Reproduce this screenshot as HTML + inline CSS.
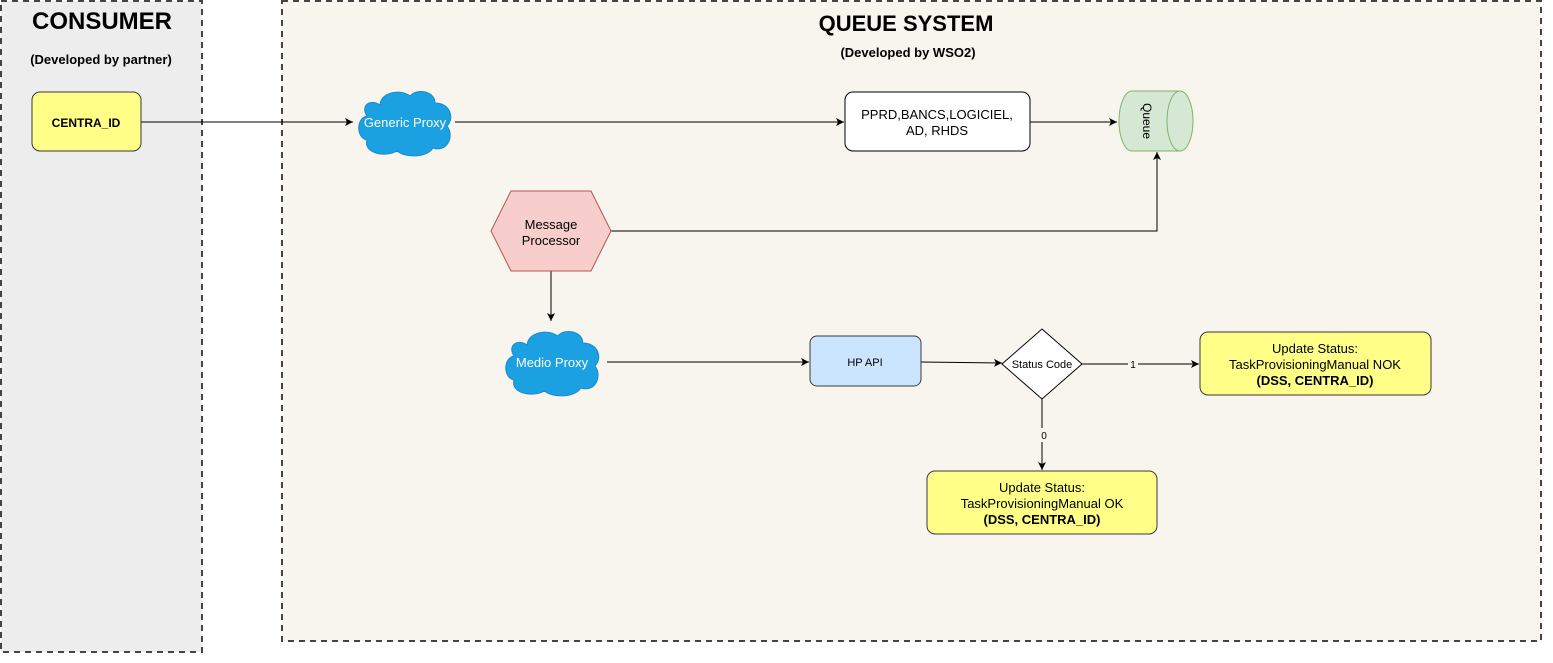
<!DOCTYPE html>
<html><head><style>
html,body{margin:0;padding:0;background:#fff;}
svg{display:block;font-family:"Liberation Sans",Arial,sans-serif;}
</style></head><body>
<svg width="1553" height="663" viewBox="0 0 1553 663" xmlns="http://www.w3.org/2000/svg">
<defs>
<marker id="a" markerWidth="10" markerHeight="10" refX="9" refY="5" orient="auto" markerUnits="userSpaceOnUse">
<path d="M1,1 L9,5 L1,9 L3,5 Z" fill="#000"/></marker>
<symbol id="cloud" viewBox="0 0 100 70" preserveAspectRatio="none">
<path d="M25,17 C25,5 45,0 55,8 C62,0 80,3 80,15 C95,15 100,30 92,38 C100,48 92,65 78,60 C72,70 50,70 42,63 C30,70 8,65 12,52 C1,50 1,30 12,28 C5,18 15,10 25,17 Z" fill="#1ba1e2" stroke="#1a8ccc" stroke-width="1"/>
</symbol>
</defs>
<rect x="1" y="1" width="201" height="651" fill="#ededed" stroke="#444" stroke-width="2" stroke-dasharray="6,5"/>
<rect x="282" y="1" width="1259" height="640" fill="#f8f5ee" stroke="#444" stroke-width="2" stroke-dasharray="6,5"/>
<text x="102" y="29" font-size="24" font-weight="bold" text-anchor="middle">CONSUMER</text>
<text x="101" y="64" font-size="13" font-weight="bold" text-anchor="middle">(Developed by partner)</text>
<text x="906" y="31" font-size="22" font-weight="bold" text-anchor="middle">QUEUE SYSTEM</text>
<text x="908" y="57" font-size="13" font-weight="bold" text-anchor="middle">(Developed by WSO2)</text>

<line x1="141" y1="122" x2="353" y2="122" stroke="#000" marker-end="url(#a)"/>
<line x1="455" y1="122" x2="844" y2="122" stroke="#000" marker-end="url(#a)"/>
<line x1="1030" y1="122" x2="1117" y2="122" stroke="#000" marker-end="url(#a)"/>
<polyline points="611,231 1157,231 1157,152" fill="none" stroke="#000" marker-end="url(#a)"/>
<line x1="551" y1="271" x2="551" y2="321" stroke="#000" marker-end="url(#a)"/>
<line x1="607" y1="362" x2="809" y2="362" stroke="#000" marker-end="url(#a)"/>
<line x1="921" y1="362" x2="1002" y2="363" stroke="#000" marker-end="url(#a)"/>
<line x1="1082" y1="364" x2="1199" y2="364" stroke="#000" marker-end="url(#a)"/>
<line x1="1042" y1="399" x2="1042" y2="470" stroke="#000" marker-end="url(#a)"/>
<rect x="1128" y="357" width="10" height="14" fill="#f8f5ee"/>
<text x="1133" y="368" font-size="10" text-anchor="middle">1</text>
<rect x="1038" y="428" width="10" height="14" fill="#f8f5ee"/>
<text x="1044" y="439" font-size="10" text-anchor="middle">0</text>

<rect x="32" y="92" width="109" height="59" rx="8" fill="#ffff88" stroke="#36393d"/>
<text x="86" y="127" font-size="12" font-weight="bold" text-anchor="middle">CENTRA_ID</text>

<use href="#cloud" x="355" y="88" width="100" height="70"/>
<text x="405" y="127" font-size="13" fill="#fff" text-anchor="middle">Generic Proxy</text>

<rect x="845" y="92" width="185" height="59" rx="8" fill="#fff" stroke="#000"/>
<text x="937" y="119" font-size="13" text-anchor="middle">PPRD,BANCS,LOGICIEL,</text>
<text x="937" y="135" font-size="13" text-anchor="middle">AD, RHDS</text>

<path d="M1132,91 L1180,91 A13,30 0 0 1 1180,151 L1132,151 A13,30 0 0 1 1132,91 Z" fill="#d5e8d4" stroke="#82b366"/>
<path d="M1180,91 A13,30 0 0 0 1180,151" fill="none" stroke="#82b366"/>
<text x="0" y="0" font-size="12" text-anchor="middle" transform="translate(1147,121) rotate(90)" dy="4">Queue</text>

<polygon points="491,231 511,191 591,191 611,231 591,271 511,271" fill="#f8cecc" stroke="#b85450"/>
<text x="551" y="229" font-size="13" text-anchor="middle">Message</text>
<text x="551" y="245" font-size="13" text-anchor="middle">Processor</text>

<use href="#cloud" x="502" y="328" width="101" height="70"/>
<text x="552" y="367" font-size="13" fill="#fff" text-anchor="middle">Medio Proxy</text>

<rect x="810" y="336" width="111" height="50" rx="7" fill="#cce5ff" stroke="#36393d"/>
<text x="865" y="366" font-size="11" text-anchor="middle">HP API</text>

<polygon points="1042,329 1082,364 1042,399 1002,364" fill="#fff" stroke="#000"/>
<text x="1042" y="368" font-size="11" text-anchor="middle">Status Code</text>

<rect x="1200" y="332" width="231" height="63" rx="8" fill="#ffff88" stroke="#36393d"/>
<text x="1315" y="353" font-size="13" text-anchor="middle">Update Status:</text>
<text x="1315" y="369" font-size="13" text-anchor="middle">TaskProvisioningManual NOK</text>
<text x="1315" y="385" font-size="13" font-weight="bold" text-anchor="middle">(DSS, CENTRA_ID)</text>

<rect x="927" y="471" width="230" height="63" rx="8" fill="#ffff88" stroke="#36393d"/>
<text x="1042" y="492" font-size="13" text-anchor="middle">Update Status:</text>
<text x="1042" y="508" font-size="13" text-anchor="middle">TaskProvisioningManual OK</text>
<text x="1042" y="524" font-size="13" font-weight="bold" text-anchor="middle">(DSS, CENTRA_ID)</text>
</svg>
</body></html>
